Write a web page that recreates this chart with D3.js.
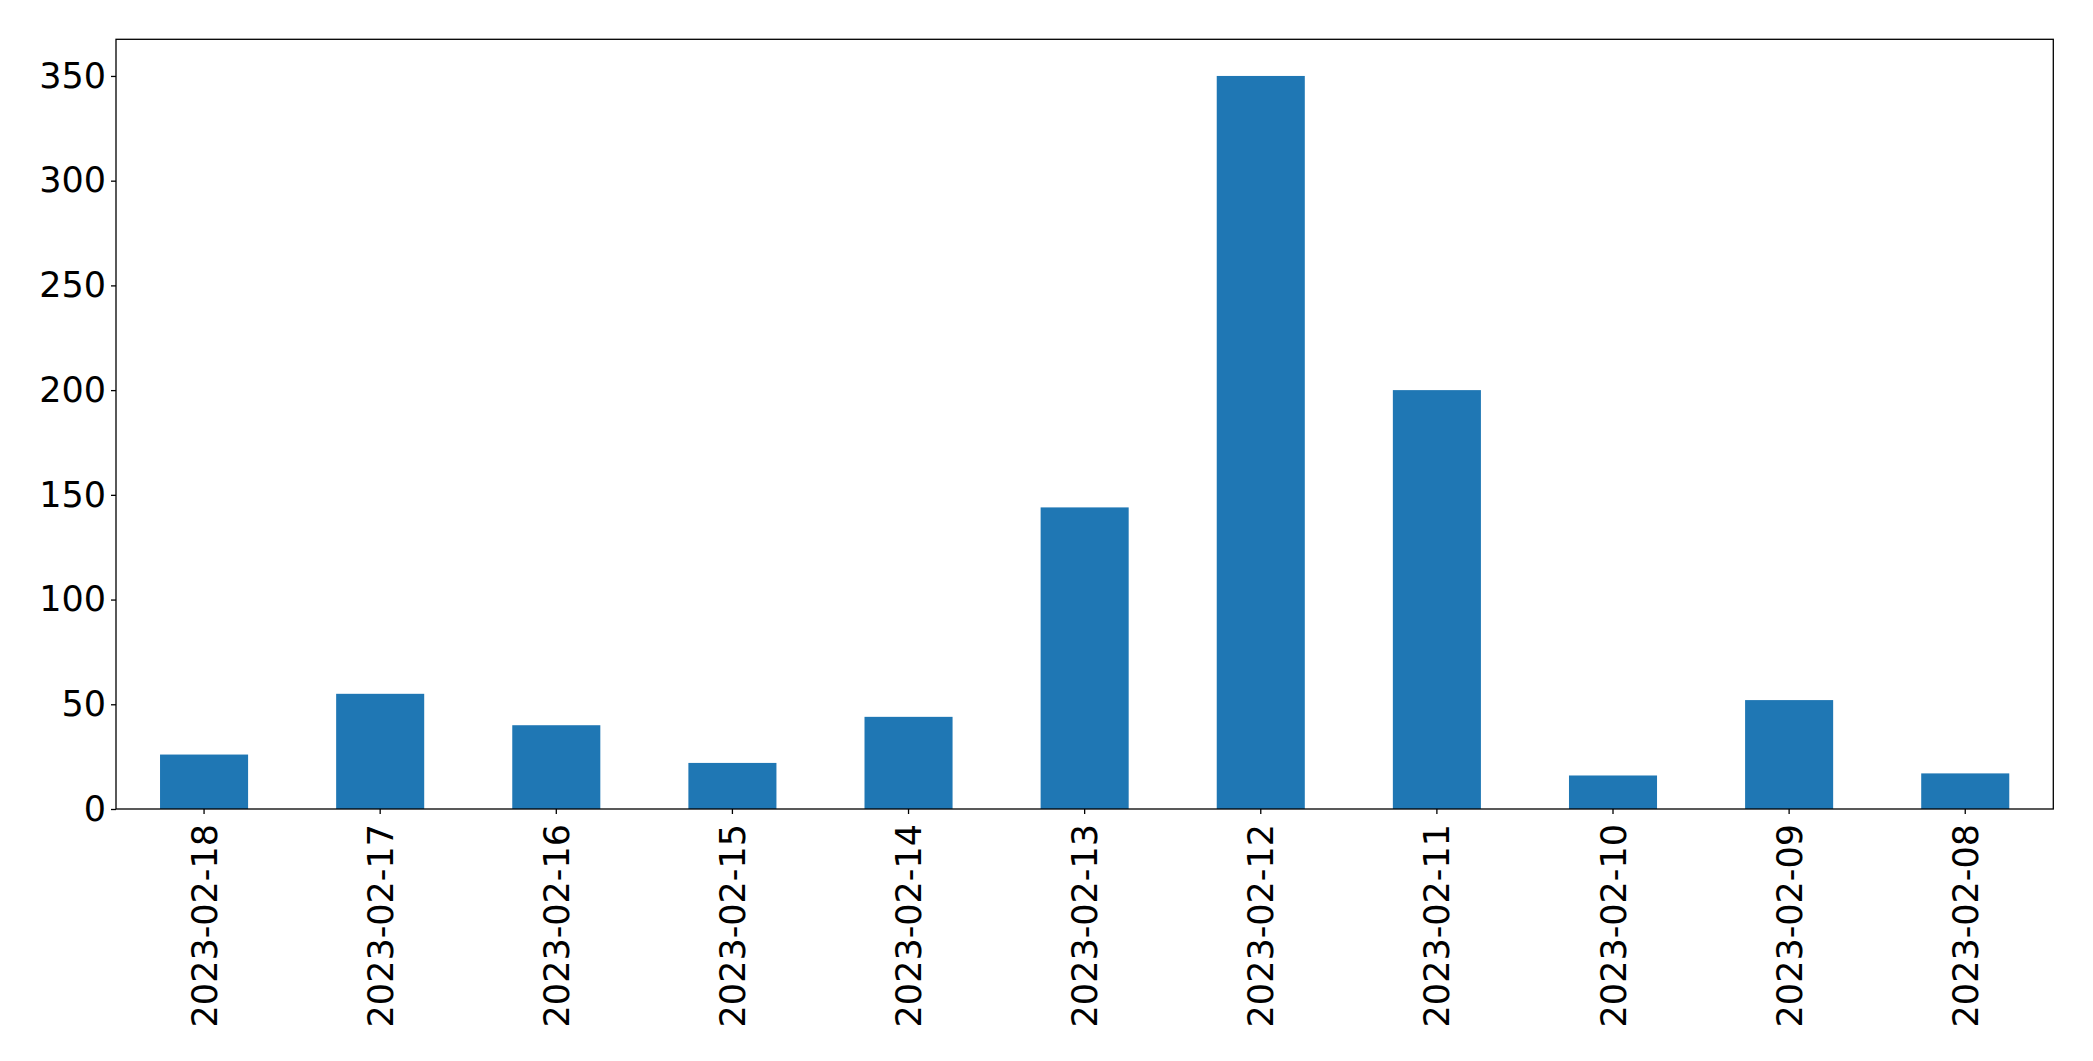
<!DOCTYPE html>
<html>
<head>
<meta charset="utf-8">
<script src="https://cdn.jsdelivr.net/npm/d3@7/dist/d3.min.js"></script>
<style>
  html, body { margin: 0; padding: 0; background: #ffffff; }
  svg { display: block; }
</style>
</head>
<body>
<svg id="chart"></svg>
<script>
const categories = ["2023-02-18", "2023-02-17", "2023-02-16", "2023-02-15", "2023-02-14", "2023-02-13", "2023-02-12", "2023-02-11", "2023-02-10", "2023-02-09", "2023-02-08"];
const values = [26, 55, 40, 22, 44, 144, 350, 200, 16, 52, 17];
const yTicks = [0, 50, 100, 150, 200, 250, 300, 350];
const yMax = 367.5;

const W = 2093, H = 1061;
const margin = { top: 39.3, right: W - 2053.3, bottom: H - 809, left: 116 };
const fontSize = 35;
const font = "'DejaVu Sans', sans-serif";

const svg = d3.select("#chart").attr("width", W).attr("height", H);
const g = svg.append("g").attr("transform", `translate(${margin.left},${margin.top})`);
const iw = W - margin.left - margin.right;
const ih = H - margin.top - margin.bottom;

const x = d3.scaleBand().domain(categories).range([0, iw]).paddingInner(0.5).paddingOuter(0.25);
const y = d3.scaleLinear().domain([0, yMax]).range([ih, 0]);

g.selectAll("rect.bar")
  .data(categories.map((c, i) => ({ c, v: values[i] })))
  .join("rect")
  .attr("class", "bar")
  .attr("x", d => x(d.c))
  .attr("width", x.bandwidth())
  .attr("y", d => y(d.v))
  .attr("height", d => y(0) - y(d.v))
  .attr("fill", "#1f77b4");

const yAxis = d3.axisLeft(y).tickValues(yTicks).tickSize(5).tickPadding(5).tickFormat(d3.format("d"));
const yg = g.append("g").call(yAxis);
yg.select(".domain").remove();
yg.selectAll(".tick line").attr("stroke", "#000").attr("stroke-width", 1.3);
yg.selectAll(".tick text").attr("font-family", font).attr("font-size", fontSize).attr("fill", "#000");

const xAxis = d3.axisBottom(x).tickSize(5).tickPadding(0);
const xg = g.append("g").attr("transform", `translate(0,${ih})`).call(xAxis);
xg.select(".domain").remove();
xg.selectAll(".tick line").attr("stroke", "#000").attr("stroke-width", 1.3);
xg.selectAll(".tick text")
  .attr("font-family", font)
  .attr("font-size", fontSize)
  .attr("fill", "#000")
  .attr("text-anchor", "end")
  .attr("transform", "rotate(-90)")
  .attr("x", -15)
  .attr("y", 0)
  .attr("dy", "0.36em");

g.append("rect")
  .attr("x", 0).attr("y", 0).attr("width", iw).attr("height", ih)
  .attr("fill", "none").attr("stroke", "#000").attr("stroke-width", 1.3);
</script>
</body>
</html>
